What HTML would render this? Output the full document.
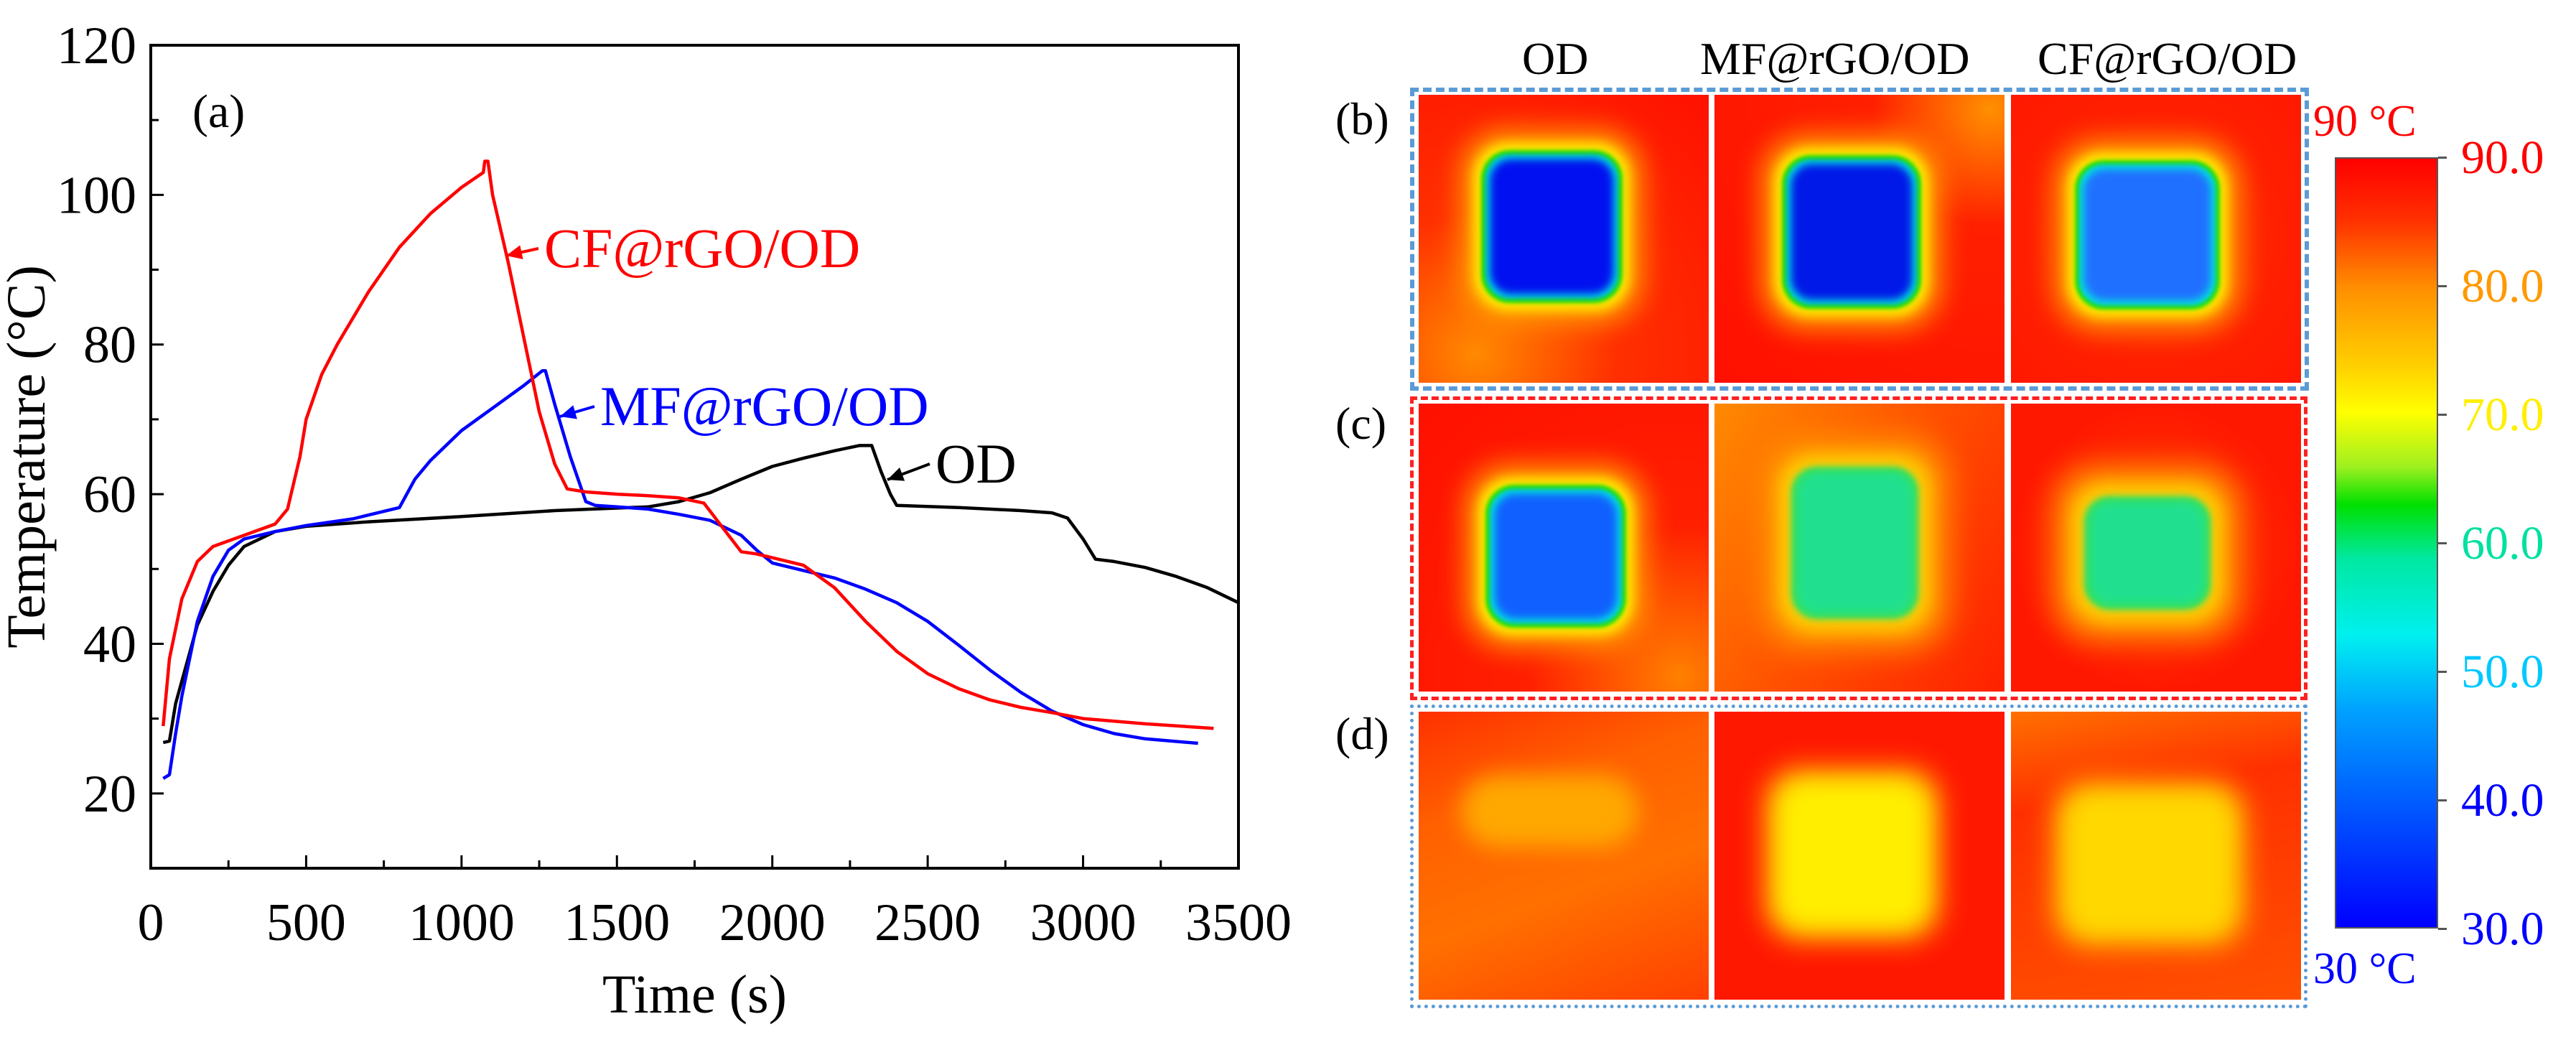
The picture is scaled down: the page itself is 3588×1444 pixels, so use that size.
<!DOCTYPE html>
<html><head><meta charset="utf-8">
<style>
html,body{margin:0;padding:0;background:#fff;}
body{width:3588px;height:1444px;position:relative;overflow:hidden;font-family:"Liberation Serif",serif;}
svg text{font-family:"Liberation Serif",serif;}
.img{position:absolute;overflow:hidden;}
.blob{position:absolute;}
.t{position:absolute;white-space:nowrap;line-height:1;font-family:"Liberation Serif",serif;}
</style></head><body>
<svg id="chart" width="1800" height="1444" style="position:absolute;left:0;top:0"></svg>

<div class="t" style="left:2120px;top:50px;font-size:64px">OD</div>
<div class="t" style="left:2368px;top:50px;font-size:64px">MF@rGO/OD</div>
<div class="t" style="left:2838px;top:50px;font-size:64px">CF@rGO/OD</div>
<div class="t" style="left:1860px;top:134px;font-size:64px">(b)</div>
<div class="t" style="left:1860px;top:558px;font-size:64px">(c)</div>
<div class="t" style="left:1860px;top:990px;font-size:64px">(d)</div>
<div class="t" style="left:3222px;top:138px;font-size:62px;color:#f00">90 °C</div>
<div class="t" style="left:3222px;top:1318px;font-size:62px;color:#00f">30 °C</div>

<div style="position:absolute;left:1964px;top:122px;width:1240px;height:410px;border:6px dashed #5b9bd5;"></div>
<div style="position:absolute;left:1964px;top:552px;width:1240px;height:413px;border:5px dashed #ff2020;"></div>
<div style="position:absolute;left:1964px;top:981px;width:1240px;height:413px;border:5px dotted #5b9bd5;"></div>

<div id="thermals"></div>

<div style="position:absolute;left:3252px;top:219px;width:144px;height:1074px;border:2px solid #555;box-sizing:border-box;background:linear-gradient(to bottom,#ff0000 0%,#ff3000 8%,#ff9000 17%,#ffd000 27%,#ffff00 33%,#a0f020 40%,#00e000 45%,#00e8a0 52%,#00f0f0 62%,#00a0ff 72%,#0060ff 83%,#0000ff 100%);"></div>
<div id="cbticks"></div>

<script>
// ---- line chart data ----
const cfT=[40,60,100,150,200,300,400,440,480,500,550,600,700,800,900,1000,1070,1075,1085,1100,1150,1200,1250,1300,1340,1400,1500,1600,1700,1780,1850,1900,1950,2000,2100,2200,2300,2400,2500,2600,2700,2800,2900,3000,3200,3420];
const cfV=[29,38,46,51,53,54.5,56,58,65,70,76,80,87,93,97.5,101,103,104.5,104.5,100,91,81,71,64,60.7,60.3,60,59.8,59.5,58.8,55,52.3,52,51.5,50.5,47.5,43,39,36,34,32.5,31.5,30.8,30,29.3,28.7];
const mfT=[40,60,80,100,150,200,250,300,400,500,650,800,850,900,1000,1100,1200,1260,1270,1300,1350,1400,1430,1500,1600,1700,1800,1900,1950,2000,2100,2200,2300,2400,2500,2600,2700,2800,2900,3000,3100,3200,3370];
const mfV=[22,22.5,28,33,43,49,52.5,54,55,55.8,56.7,58.2,62,64.5,68.5,71.5,74.5,76.5,76.5,72,65,59,58.5,58.3,58,57.3,56.5,54.5,52.5,50.8,49.8,48.8,47.3,45.5,43,39.8,36.5,33.5,31,29.2,28,27.3,26.7];
const odT=[40,60,80,120,150,200,250,300,400,500,700,1000,1300,1600,1700,1800,1900,2000,2100,2200,2280,2320,2350,2380,2400,2600,2800,2900,2950,3000,3040,3100,3200,3300,3400,3500];
const odV=[26.8,27,32,38,42.5,47,50.5,53,55,55.7,56.3,57,57.8,58.3,59,60.2,62,63.7,64.8,65.8,66.5,66.5,63,60,58.5,58.2,57.8,57.5,56.8,54,51.3,51,50.2,49,47.5,45.5];
const xTicks=[0,500,1000,1500,2000,2500,3000,3500];
const yTicks=[20,40,60,80,100,120];
// colorbar
const cbVals=[90,80,70,60,50,40,30];
const cbColors=["#ff0000","#ff9900","#ffee00","#00e0a0","#00c8ff","#0000ff","#0000ff"];

const L=210,R=1725,T=63,B=1209,X0=0,X1=3500,Y0=10,Y1=120;
const sx=v=>L+(v-X0)/(X1-X0)*(R-L);
const sy=v=>B-(v-Y0)/(Y1-Y0)*(B-T);
const NS="http://www.w3.org/2000/svg";
const svg=document.getElementById('chart');
function mk(tag,attrs,parent){const e=document.createElementNS(NS,tag);for(const k in attrs)e.setAttribute(k,attrs[k]);(parent||svg).appendChild(e);return e;}

let fr=mk('rect',{x:L,y:T,width:R-L,height:B-T,fill:'none',stroke:'#000','stroke-width':4});


for(let v=0;v<=3500;v+=250){const major=v%500===0;const l=mk('line',{x1:sx(v),x2:sx(v),y1:B,y2:B-(major?18:11),stroke:'#000','stroke-width':3});

}
for(let v=10;v<=120;v+=10){const major=v%20===0;const l=mk('line',{x1:L,x2:L+(major?18:11),y1:sy(v),y2:sy(v),stroke:'#000','stroke-width':3});

}
xTicks.forEach(v=>{const t=mk('text',{x:sx(v),y:B+100,'font-size':74,'text-anchor':'middle'});t.textContent=v;

});
yTicks.forEach(v=>{const t=mk('text',{x:L-20,y:sy(v)+25,'font-size':74,'text-anchor':'end'});t.textContent=v;

});
let xt=mk('text',{x:(L+R)/2,y:1410,'font-size':76,'text-anchor':'middle'});xt.textContent='Time (s)';


let yt=mk('text',{x:0,y:0,'font-size':76,'text-anchor':'middle',transform:`translate(62,${(T+B)/2}) rotate(-90)`});yt.textContent='Temperature (°C)';


let pa=mk('text',{x:268,y:177,'font-size':66});pa.textContent='(a)';



function series(ts,vs,col,name){const d=ts.map((t,i)=>(i?'L':'M')+sx(t).toFixed(1)+','+sy(vs[i]).toFixed(1)).join('');
const p=mk('path',{d:d,fill:'none',stroke:col,'stroke-width':4.5,'stroke-linejoin':'round'});

}
series(odT,odV,'#000','od-line');
series(mfT,mfV,'#0000ff','mf-line');
series(cfT,cfV,'#ff0000','cf-line');

function annot(txt,x,y,ax,ay,col,name){
 const t=mk('text',{x:x,y:y,'font-size':78,fill:col});t.textContent=txt;
 
 
 const ang=Math.atan2(ay-(y-26),ax-(x-8));
 const sx0=x-8,sy0=y-26;
 const l=mk('line',{x1:sx0,y1:sy0,x2:ax,y2:ay,stroke:col,'stroke-width':4});
 
 
 const h=22,w=10;const bx=ax-h*Math.cos(ang),by=ay-h*Math.sin(ang);
 const pg=mk('polygon',{points:`${ax},${ay} ${bx-w*Math.sin(ang)},${by+w*Math.cos(ang)} ${bx+w*Math.sin(ang)},${by-w*Math.cos(ang)}`,fill:col});
 
 
}
annot('CF@rGO/OD',758,372,705,356,'#ff0000','cf-annotation');
annot('MF@rGO/OD',836,592,780,580,'#0000ff','mf-annotation');
annot('OD',1303,672,1236,668,'#000','od-annotation');

// colorbar ticks
const cbTop=219,cbBot=1293;
const th=document.getElementById('cbticks');
cbVals.forEach((v,i)=>{const y=cbTop+(90-v)/60*(cbBot-cbTop);
 const tk=document.createElement('div');tk.style.cssText=`position:absolute;left:3396px;top:${y-1}px;width:12px;height:3px;background:#555`;
 
 
 th.appendChild(tk);
 const lb=document.createElement('div');lb.className='t';lb.style.cssText=`left:3428px;top:${y-32}px;font-size:66px;color:${cbColors[i]}`;lb.textContent=v.toFixed(1);
 
 
 th.appendChild(lb);});

// thermal images
const cols=[1976,2388,2801], rows=[[132,401],[562,401],[991,401]];
const W=404;
const specs=[
 {bg:'radial-gradient(circle at 20% 90%,#ff8a00,#ff3000 40%,#ff1000)',sq:[99,89,173,189],core:'#0010f0',kind:'cold'},
 {bg:'radial-gradient(circle at 95% 5%,#ff9000,#ff2000 30%,#ff1000)',sq:[106,96,170,190],core:'#0018e8',kind:'cold'},
 {bg:'radial-gradient(circle at 50% 50%,#ff4000,#ff2000 60%,#ff1800)',sq:[101,103,178,184],core:'#2070ff',kind:'cold'},
 {bg:'radial-gradient(circle at 90% 95%,#ff8000,#ff2000 40%,#ff1000)',sq:[105,125,172,175],core:'#1060ff',kind:'cold'},
 {bg:'linear-gradient(120deg,#ff8a00,#ff5000 50%,#ff2000)',sq:[112,93,167,202],core:'#20e090',kind:'warm'},
 {bg:'radial-gradient(circle at 50% 50%,#ff4000,#ff1800 70%)',sq:[107,134,166,148],core:'#20e090',kind:'warm'},
 {bg:'linear-gradient(160deg,#ff3000,#ff6000 30%,#ff7000 60%,#ff4000)',sq:[59,88,247,101],core:'#ffa000',kind:'faint'},
 {bg:'#ff1800',sq:[89,97,207,203],core:'#ffee00',kind:'yellow'},
 {bg:'linear-gradient(170deg,#ff7000,#ff3000 30%,#ff5000)',sq:[78,115,230,194],core:'#ffd800',kind:'yellow'}
];
const host=document.getElementById('thermals');
specs.forEach((s,i)=>{const r=Math.floor(i/3),c=i%3;
 const d=document.createElement('div');d.className='img';
 d.style.cssText=`left:${cols[c]}px;top:${rows[r][0]}px;width:${W}px;height:${rows[r][1]}px;background:${s.bg}`;
 
 
 const [x,y,w,h]=s.sq;
 function add(dx,col,blur,rad){const b=document.createElement('div');b.className='blob';
  b.style.cssText=`left:${x-dx}px;top:${y-dx}px;width:${w+2*dx}px;height:${h+2*dx}px;background:${col};border-radius:${rad}px;filter:blur(${blur}px)`;
  
  
  d.appendChild(b);}
 if(s.kind==='cold'){add(40,'#ff9a00',18,60);add(22,'#ffee00',8,48);add(12,'#20e000',3,40);add(6,'#00e8e0',3,34);add(0,s.core,6,30);}
 else if(s.kind==='warm'){add(48,'#ff9000',20,60);add(22,'#ffd000',12,48);add(4,'#40e040',4,34);add(0,s.core,8,30);}
 else if(s.kind==='faint'){add(0,'#ffa800',16,50);}
 else {add(20,'#ffb000',18,50);add(0,s.core,14,40);}
 host.appendChild(d);});
</script>
</body></html>
